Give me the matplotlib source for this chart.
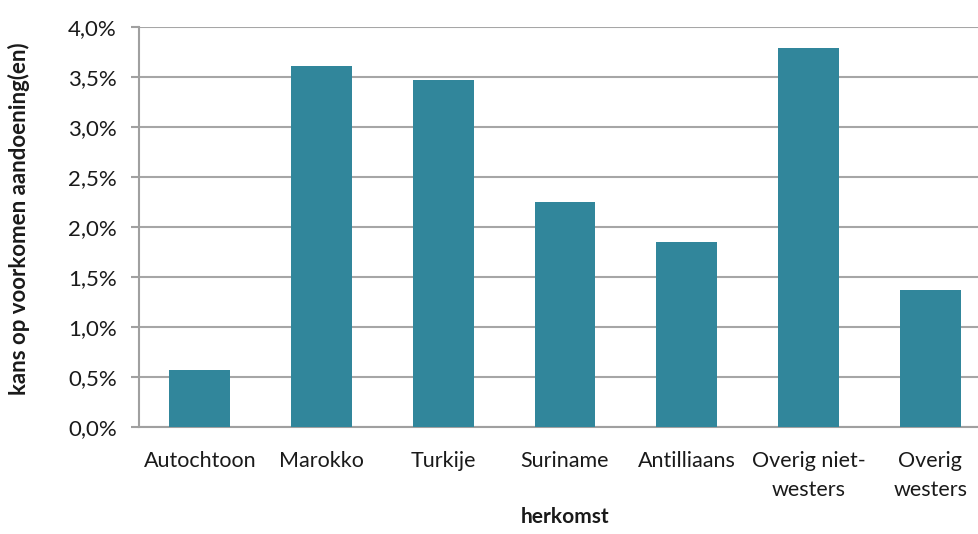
import matplotlib
matplotlib.use("Agg")
import matplotlib.pyplot as plt
from matplotlib.ticker import FuncFormatter

categories = ["Autochtoon", "Marokko", "Turkije", "Suriname", "Antilliaans",
              "Overig niet-\nwesters", "Overig\nwesters"]
values = [0.57, 3.61, 3.47, 2.25, 1.85, 3.79, 1.37]  # percent
yticks = [0.0, 0.5, 1.0, 1.5, 2.0, 2.5, 3.0, 3.5, 4.0]

plt.rcParams['font.family'] = ['Lato', 'DejaVu Sans']

fig = plt.figure(figsize=(9.79, 5.34), dpi=100)
ax = fig.add_axes([139 / 979, 1 - 427 / 534, 852 / 979, 400 / 534])

x = list(range(len(categories)))
ax.bar(x, values, width=0.5, color="#31869b", zorder=3)

ax.set_xlim(-0.5, len(categories) - 0.5)
ax.set_ylim(0, 4.0)
ax.set_yticks(yticks)
ax.yaxis.set_major_formatter(FuncFormatter(lambda v, p: f"{v:.1f}%".replace(".", ",")))
ax.set_xticks(x)
ax.set_xticklabels(categories, fontsize=15.5, color="#1a1a1a", linespacing=1.6)
ax.tick_params(axis="y", labelsize=16, labelcolor="#1a1a1a", length=6,
               width=1.5, color="#a0a0a0", pad=10)
ax.tick_params(axis="x", length=0, pad=17)

ax.yaxis.grid(True, color="#a6a6a6", linewidth=1.5, zorder=0)
ax.set_axisbelow(True)
for side in ("top", "right"):
    ax.spines[side].set_visible(False)
for side in ("left", "bottom"):
    ax.spines[side].set_color("#a0a0a0")
    ax.spines[side].set_linewidth(1.5)

ax.set_ylabel("kans op voorkomen aandoening(en)", fontsize=16, fontweight="bold",
              color="#1a1a1a")
ax.yaxis.set_label_coords(-0.128, 0.52)
ax.set_xlabel("herkomst", fontsize=15, fontweight="bold", color="#1a1a1a", labelpad=5)

fig.savefig("out.png", dpi=100)
